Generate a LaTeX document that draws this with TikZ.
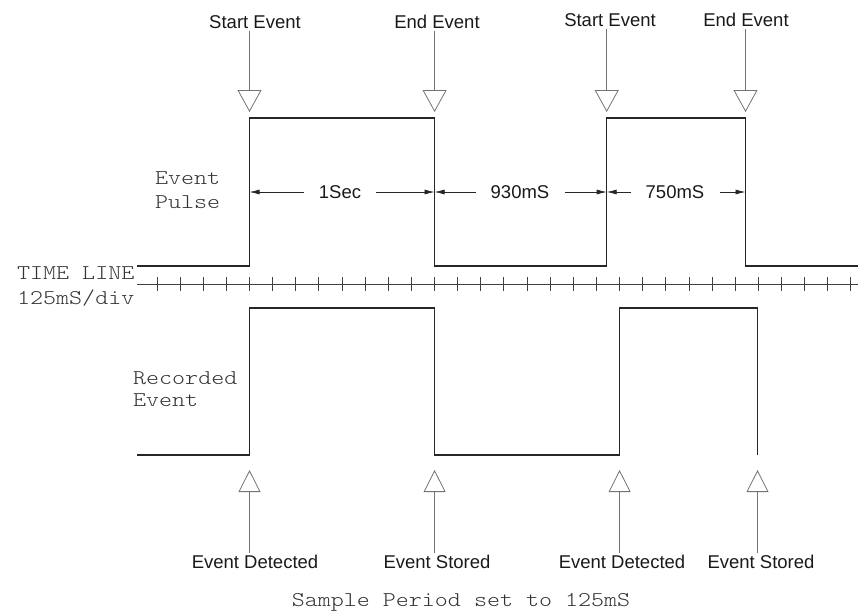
\documentclass[tikz,border=0pt]{standalone}
\usepackage{fontspec}
\setmainfont{Liberation Sans}
\usepackage{graphicx}
\usetikzlibrary{arrows.meta}
\newcommand\cadfont{\fontfamily{lmtt}\fontseries{l}\fontsize{21}{24}\selectfont}
\newcommand\cadsc[1]{\scalebox{1.18}[1]{#1}}
\begin{document}
\begin{tikzpicture}[x=1pt,y=-1pt,
  wave/.style={line width=1.3pt, black!85},
  lbl/.style={font=\fontsize{18.5}{22}\selectfont, inner sep=2pt, text=black!90},
  dimlbl/.style={font=\fontsize{18.5}{22}\selectfont, inner xsep=15pt, inner ysep=2pt, text=black!90},
  cad/.style={font=\cadfont, inner sep=0pt, text=black!80},
  downarr/.style={line width=0.8pt, black!55, -{Triangle[open,length=22pt,width=24pt]}},
  uparr/.style={line width=0.8pt, black!55, -{Triangle[open,length=22pt,width=22pt]}},
  dimarr/.style={line width=0.7pt, black!85, -{Latex[length=10pt,width=5pt]}},
  tline/.style={line width=0.8pt, black!75},
  tickmark/.style={line width=1pt, black!75}]
\useasboundingbox (0,0) rectangle (858,611);

% edge coordinates
\coordinate (p1) at (249.5,118);
\coordinate (p2) at (434.6,118);
\coordinate (p3) at (606.7,118);
\coordinate (p4) at (745.5,118);
\coordinate (b1) at (249.5,470);
\coordinate (b2) at (434.6,470);
\coordinate (b3) at (619.6,470);
\coordinate (b4) at (757.5,470);
\coordinate (dy) at (0,192);

% event pulse waveform
\draw[wave] (137,266) -- (249.5,266) -- (249.5,118) -- (434.6,118) -- (434.6,266)
  -- (606.7,266) -- (606.7,118) -- (745.5,118) -- (745.5,266) -- (858,266);

% recorded event waveform
\draw[wave] (137,455) -- (249.5,455) -- (249.5,308) -- (434.6,308) -- (434.6,455)
  -- (619.6,455) -- (619.6,308) -- (757.5,308) -- (757.5,455);

% time line
\draw[tline] (137,284) -- (858,284);
\foreach \k in {0,...,30} \draw[tickmark] ({157+23.13*\k},277) -- ({157+23.13*\k},291);

% left labels
\node[cad, anchor=base west] (ep1) at (155,184.5) {\cadsc{Event}};
\node[cad, anchor=base west] (ep2) at (155,208.5) {\cadsc{Pulse}};
\node[cad, anchor=base west] (tl1) at (17,279.5) {\cadsc{TIME LINE}};
\node[cad, anchor=base west] (tl2) at (17,304.5) {\cadsc{125mS/div}};
\node[cad, anchor=base west] (re1) at (133,384.5) {\cadsc{Recorded}};
\node[cad, anchor=base west] (re2) at (133,406.5) {\cadsc{Event}};
\node[cad, anchor=base] (sp) at (461,606.5) {\cadsc{Sample Period set to 125mS}};

% top labels and arrows
\node[lbl] (se1) at (255,22) {Start Event};
\node[lbl] (ee1) at (437,22) {End Event};
\node[lbl] (se2) at (610,20) {Start Event};
\node[lbl] (ee2) at (746,20) {End Event};
\draw[downarr] (se1.south -| p1) -- ([yshift=6pt]p1);
\draw[downarr] (ee1.south -| p2) -- ([yshift=6pt]p2);
\draw[downarr] (se2.south -| p3) -- ([yshift=6pt]p3);
\draw[downarr] (ee2.south -| p4) -- ([yshift=6pt]p4);

% bottom labels and arrows
\node[lbl] (ed1) at (255,562) {Event Detected};
\node[lbl] (es1) at (437,562) {Event Stored};
\node[lbl] (ed2) at (622,562) {Event Detected};
\node[lbl] (es2) at (761,562) {Event Stored};
\draw[uparr] (ed1.north -| b1) -- (b1);
\draw[uparr] (es1.north -| b2) -- (b2);
\draw[uparr] (ed2.north -| b3) -- (b3);
\draw[uparr] (es2.north -| b4) -- (b4);

% dimensions
\node[dimlbl] (d1) at (340,192) {1Sec};
\node[dimlbl] (d2) at (520,192) {930mS};
\node[dimlbl] (d3) at (675,192) {750mS};
\draw[dimarr] (d1.west) -- (d1.west -| p1);
\draw[dimarr] (d1.east) -- (d1.east -| p2);
\draw[dimarr] (d2.west) -- (d2.west -| p2);
\draw[dimarr] (d2.east) -- (d2.east -| p3);
\draw[dimarr] (d3.west) -- (d3.west -| p3);
\draw[dimarr] (d3.east) -- (d3.east -| p4);
\end{tikzpicture}
\end{document}
